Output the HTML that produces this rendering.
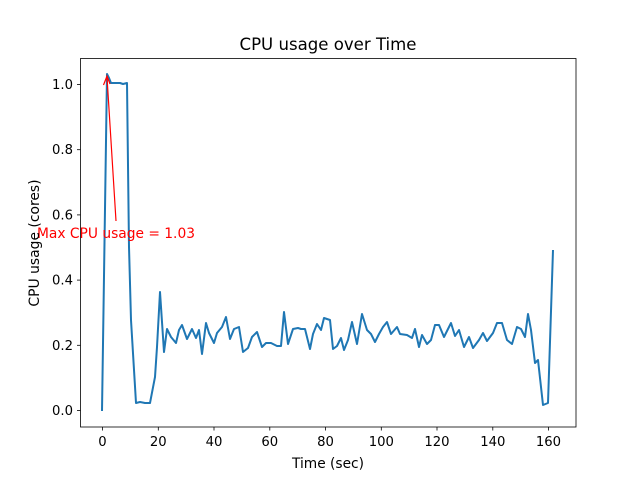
<!DOCTYPE html>
<html><head><meta charset="utf-8"><style>body{margin:0;background:#fff}svg{display:block}text{font-family:"DejaVu Sans","Liberation Sans",sans-serif}</style></head>
<body>
<svg width="640" height="480" xmlns="http://www.w3.org/2000/svg">
<rect width="640" height="480" fill="#fff"/>
<text x="328" y="50" font-size="16.6" text-anchor="middle" textLength="177" lengthAdjust="spacingAndGlyphs">CPU usage over Time</text>
<polyline fill="none" stroke="#1f77b4" stroke-width="2" stroke-linejoin="round" points="102,411 107,74 109,78 111,83 120,83 123,84 127,83 129,247 131,320 136,403 140,402 145,403 150,403 155,377 157,347 160,292 164,352 167,329 171,337 176,343 179,330 182,325 187,339 192,329 196,338 199,330 202,354 206,323 209,333 214,343 217,333 222,327 226,317 230,339 234,329 239,327 243,352 248,348 252,337 257,332 262,347 266,343 271,343 277,346 281,346 284,312 288,344 293,329 298,328 301,329 305,329 310,349 313,334 317,324 321,330 324,318 330,320 333,349 337,346 341,338 344,350 348,340 352,322 357,344 362,314 367,330 371,334 375,342 379,334 383,327 387,322 391,334 397,327 400,334 407,335 412,338 415,329 419,347 422,335 427,344 431,340 435,325 439,325 444,337 451,323 455,336 459,330 464,347 469,337 473,348 479,340 483,333 487,341 493,333 497,323 502,323 507,340 512,344 517,327 521,329 525,337 528,314 531,330 535,363 538,360 543,405 548,403 553,250"/>
<line x1="116" y1="221" x2="107" y2="77" stroke="red" stroke-width="1.2"/>
<polyline points="103.5,85 107,76 110,84" fill="none" stroke="red" stroke-width="1.2"/>
<text x="37" y="238" font-size="13.9" fill="red" textLength="158" lengthAdjust="spacingAndGlyphs">Max CPU usage = 1.03</text>
<rect x="80.5" y="58.5" width="495.5" height="368.5" fill="none" stroke="#000" stroke-width="0.8"/>
<g stroke="#000" stroke-width="0.8">
<line x1="102.5" y1="427" x2="102.5" y2="430.5"/><line x1="158.3" y1="427" x2="158.3" y2="430.5"/><line x1="214" y1="427" x2="214" y2="430.5"/><line x1="269.8" y1="427" x2="269.8" y2="430.5"/><line x1="325.5" y1="427" x2="325.5" y2="430.5"/><line x1="381.3" y1="427" x2="381.3" y2="430.5"/><line x1="437" y1="427" x2="437" y2="430.5"/><line x1="492.8" y1="427" x2="492.8" y2="430.5"/><line x1="548.5" y1="427" x2="548.5" y2="430.5"/>
<line x1="77" y1="410.5" x2="80.5" y2="410.5"/><line x1="77" y1="345.3" x2="80.5" y2="345.3"/><line x1="77" y1="280.1" x2="80.5" y2="280.1"/><line x1="77" y1="214.9" x2="80.5" y2="214.9"/><line x1="77" y1="149.7" x2="80.5" y2="149.7"/><line x1="77" y1="84.5" x2="80.5" y2="84.5"/>
</g>
<g font-size="13.2" text-anchor="middle">
<text x="102.5" y="446">0</text><text x="158.3" y="446">20</text><text x="214" y="446">40</text><text x="269.8" y="446">60</text><text x="325.5" y="446">80</text><text x="381.3" y="446">100</text><text x="437" y="446">120</text><text x="492.8" y="446">140</text><text x="548.5" y="446">160</text>
</g>
<g font-size="13.2" text-anchor="end">
<text x="73" y="415">0.0</text><text x="73" y="349.8">0.2</text><text x="73" y="284.6">0.4</text><text x="73" y="219.4">0.6</text><text x="73" y="154.2">0.8</text><text x="73" y="89">1.0</text>
</g>
<text x="328" y="468" font-size="13.9" text-anchor="middle" textLength="72" lengthAdjust="spacingAndGlyphs">Time (sec)</text>
<text transform="translate(39,243) rotate(-90)" font-size="13.9" text-anchor="middle">CPU usage (cores)</text>
</svg>
</body></html>
